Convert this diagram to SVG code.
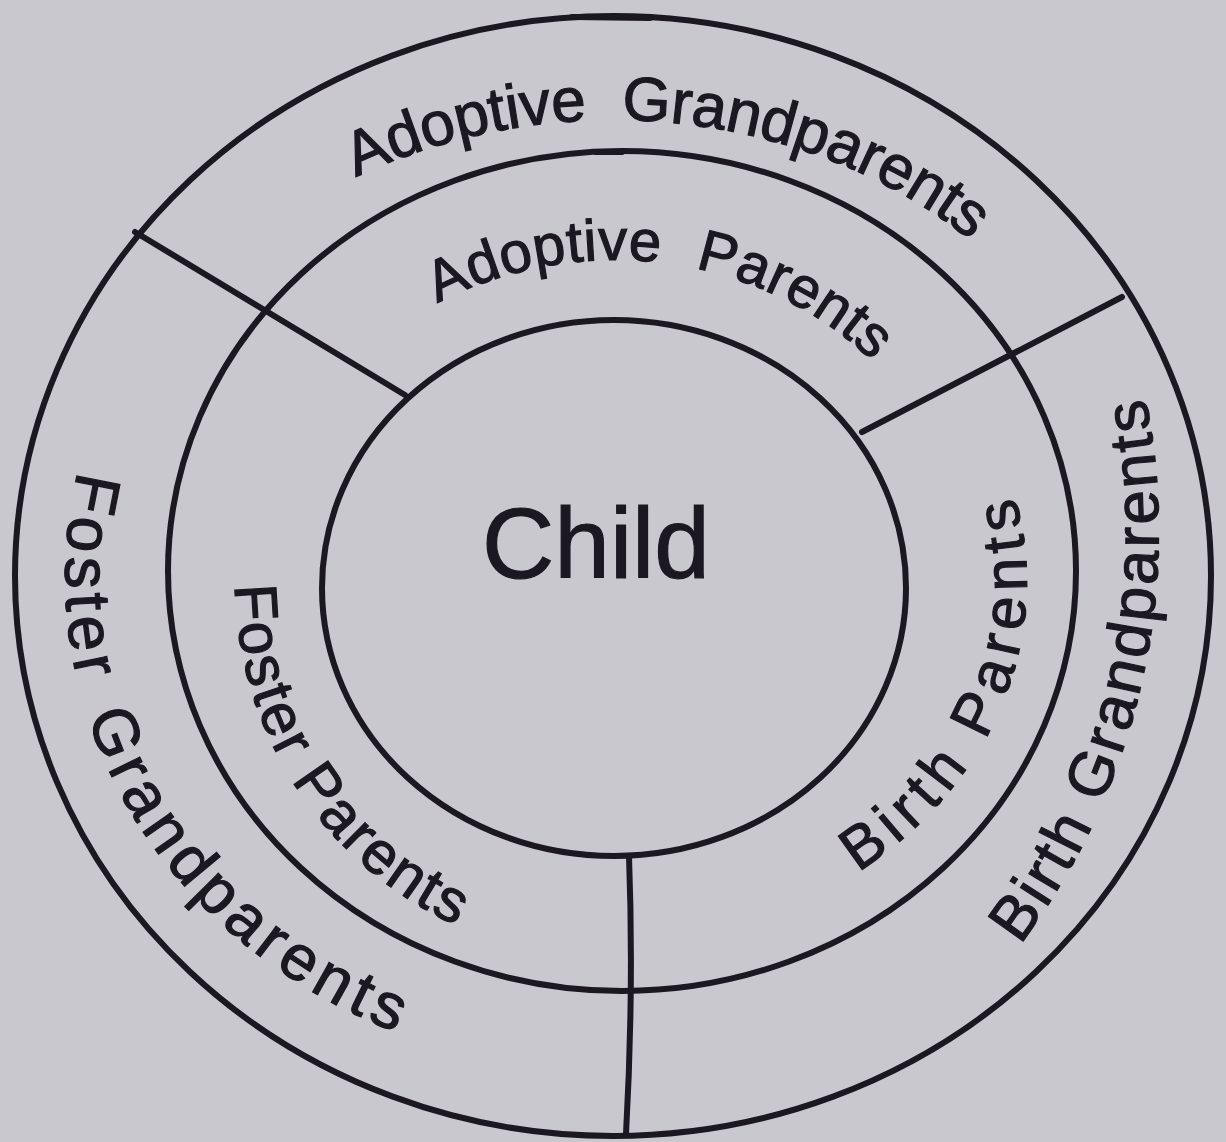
<svg xmlns="http://www.w3.org/2000/svg" width="1226" height="1142" viewBox="0 0 1226 1142">
<defs>
<style>
.ring{fill:none;stroke:#1c1822;stroke-width:6}
.div{fill:none;stroke:#1c1822;stroke-width:6;stroke-linecap:round}
.lbl{font-family:"Liberation Sans","DejaVu Sans",sans-serif;fill:#1c1822;stroke:#1c1822;stroke-width:1.2}
</style>
<path id="pAG" d="M356.1,177.4 A530,458 0 0 1 981.2,248.6"/>
<path id="pAP" d="M437.5,303.5 A355,325 0 0 1 878.8,367.5"/>
<path id="pFG" d="M78,470.9 A545,495 0 0 0 408.8,1037"/>
<path id="pFP" d="M235.0,585.3 A380,380 0 0 0 462,928"/>
<path id="pBG" d="M1020,945 A687,687 0 0 0 1145,395"/>
<path id="pBP" d="M858,872 A417,361 0 0 0 1015,497"/>
</defs>
<rect width="1226" height="1142" fill="#c9c8ce"/>
<g id="rings">
<ellipse class="ring" cx="613" cy="576" rx="598" ry="560"/>
<ellipse class="ring" cx="622" cy="571" rx="454" ry="420"/>
<ellipse class="ring" cx="614" cy="588" rx="292" ry="268"/>
<path class="div" d="M572,17 L650,18" stroke-width="8"/>
<path class="div" d="M596,152 L622,152" stroke-width="8"/>
</g>
<g id="connectors">
<path class="div" d="M135,232 L405,395"/>
<path class="div" d="M1122,297 L862,432"/>
<path class="div" d="M629,856 Q634,990 626,1134"/>
</g>
<g id="child"><text class="lbl" x="596" y="578" font-size="100" text-anchor="middle">Child</text></g>
<g id="adoptive-grandparents"><text class="lbl" font-size="62" word-spacing="18"><textPath href="#pAG" textLength="650" lengthAdjust="spacing">Adoptive Grandparents</textPath></text></g>
<g id="adoptive-parents"><text class="lbl" font-size="58" word-spacing="18"><textPath href="#pAP" textLength="468" lengthAdjust="spacing">Adoptive Parents</textPath></text></g>
<g id="foster-grandparents"><text class="lbl" font-size="64" word-spacing="8"><textPath href="#pFG" textLength="705" lengthAdjust="spacing">Foster Grandparents</textPath></text></g>
<g id="foster-parents"><text class="lbl" font-size="60"><textPath href="#pFP" textLength="428" lengthAdjust="spacing">Foster Parents</textPath></text></g>
<g id="birth-grandparents"><text class="lbl" font-size="62"><textPath href="#pBG" textLength="578" lengthAdjust="spacing">Birth Grandparents</textPath></text></g>
<g id="birth-parents"><text class="lbl" font-size="60"><textPath href="#pBP" textLength="436" lengthAdjust="spacing">Birth Parents</textPath></text></g>
</svg>
